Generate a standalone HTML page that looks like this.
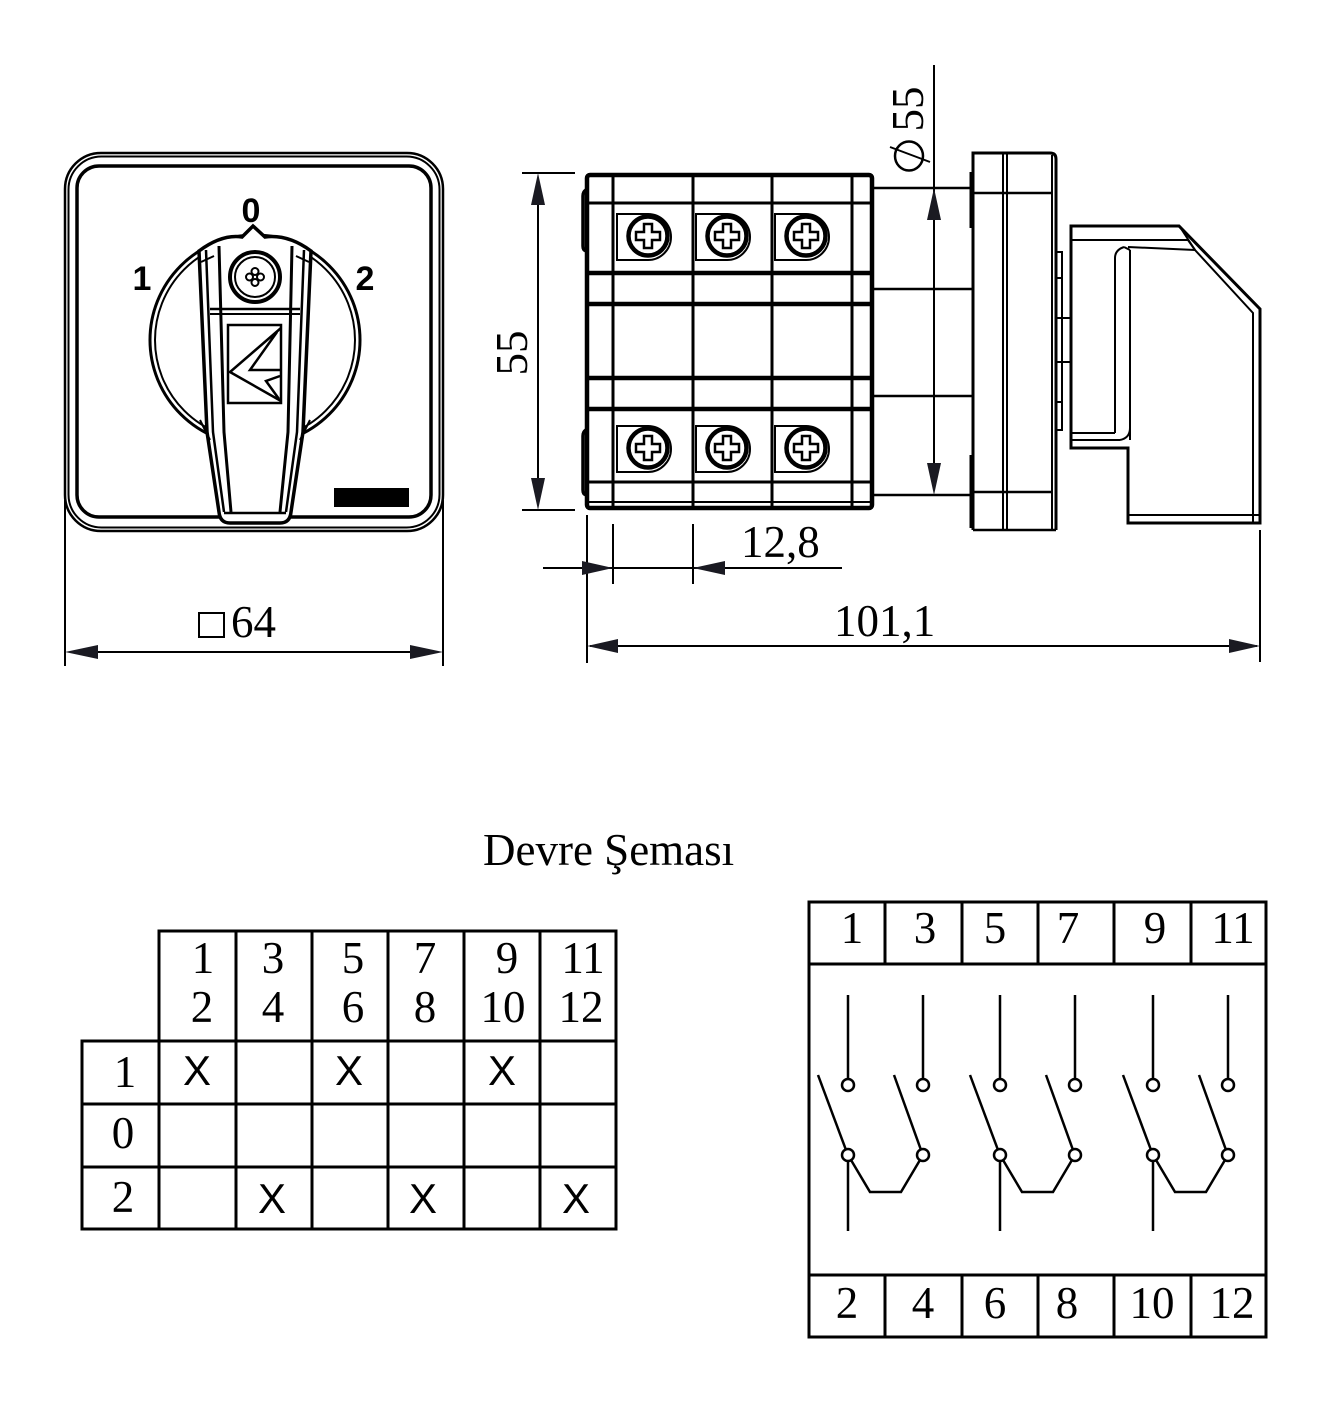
<!DOCTYPE html>
<html><head><meta charset="utf-8"><style>
html,body{margin:0;padding:0;background:#fff;}
svg{display:block;}
.s{fill:none;stroke:#000;}
.serif{font-family:"Liberation Serif",serif;fill:#000;}
.sans{font-family:"Liberation Sans",sans-serif;fill:#000;}
</style></head><body>
<svg width="1332" height="1403" viewBox="0 0 1332 1403" xmlns="http://www.w3.org/2000/svg">
<rect width="1332" height="1403" fill="#fff"/>

<!-- ===== FRONT VIEW ===== -->
<rect class="s" x="65" y="153" width="378" height="378" rx="36" stroke-width="2.5"/>
<rect class="s" x="68.5" y="156.5" width="371" height="371" rx="33" stroke-width="2"/>
<rect class="s" x="77" y="166" width="354" height="351" rx="22" stroke-width="3.5"/>

<!-- knob circle -->
<circle class="s" cx="255" cy="340" r="105" stroke-width="3"/>
<circle class="s" cx="255" cy="340" r="100" stroke-width="2"/>

<!-- handle -->
<path d="M199,251 Q222,234 242,237 L253,226 L265,237 Q288,234 311,251 L303,432 L291,512 Q290,523 280,523 L230,523 Q220,523 219,512 L207,432 Z" fill="#fff" stroke="#000" stroke-width="3.5"/>
<polyline class="s" points="206,250 213,432 224,512" stroke-width="2.5"/>
<polyline class="s" points="219,246 224,432 231,512" stroke-width="3"/>
<polyline class="s" points="304,250 297,432 286,512" stroke-width="2.5"/>
<polyline class="s" points="292,246 288,432 280,512" stroke-width="3"/>
<line class="s" x1="224" y1="513" x2="286" y2="513" stroke-width="2.5"/>
<line class="s" x1="210" y1="309" x2="300" y2="309" stroke-width="2.5"/>
<line class="s" x1="210" y1="314" x2="300" y2="314" stroke-width="2"/>
<!-- wings -->
<path class="s" d="M201,262 L214,256 M200,420 L210,440 M309,262 L296,256 M310,420 L300,440" stroke-width="2"/>

<!-- screw -->
<circle cx="255" cy="277" r="25" fill="#fff" stroke="#000" stroke-width="4"/>
<circle class="s" cx="255" cy="277" r="20" stroke-width="2"/>
<g class="s" stroke-width="2">
<circle cx="255" cy="271.5" r="3.5"/><circle cx="255" cy="282.5" r="3.5"/>
<circle cx="249.5" cy="277" r="3.5"/><circle cx="260.5" cy="277" r="3.5"/>
</g>

<!-- logo -->
<rect class="s" x="228" y="325" width="53" height="78" stroke-width="2.5"/>
<path class="s" d="M281,328 L230,372 L281,401 M277,332 L250,370 L281,370 M280,376 L266,381 L279,399" stroke-width="2.5"/>

<!-- black label -->
<rect x="334" y="488" width="75" height="19" fill="#000"/>

<text class="sans" x="251" y="222" font-size="34" font-weight="bold" text-anchor="middle">0</text>
<text class="sans" x="142" y="290" font-size="34" font-weight="bold" text-anchor="middle">1</text>
<text class="sans" x="365" y="290" font-size="34" font-weight="bold" text-anchor="middle">2</text>

<!-- □64 dimension -->
<line class="s" x1="65" y1="500" x2="65" y2="666" stroke-width="2"/>
<line class="s" x1="443" y1="500" x2="443" y2="666" stroke-width="2"/>
<line class="s" x1="70" y1="652" x2="438" y2="652" stroke-width="2"/>
<polygon points="65,652 98,645 98,659" fill="#1a1a22"/>
<polygon points="443,652 410,645 410,659" fill="#1a1a22"/>
<rect class="s" x="199" y="613" width="25" height="24" stroke-width="2"/>
<text class="serif" x="231" y="637" font-size="45">64</text>

<!-- ===== SIDE VIEW BODY ===== -->
<rect class="s" x="587" y="175" width="285" height="333" rx="3" stroke-width="4.5"/>
<g class="s" stroke-width="3">
<line x1="613" y1="175" x2="613" y2="508"/>
<line x1="693" y1="175" x2="693" y2="508"/>
<line x1="772" y1="175" x2="772" y2="508"/>
<line x1="852" y1="175" x2="852" y2="508"/>
<line x1="587" y1="203" x2="872" y2="203"/>
<line x1="587" y1="482" x2="872" y2="482"/>
<line x1="587" y1="502" x2="872" y2="502" stroke-width="2"/>
</g>
<g class="s" stroke-width="4.5">
<line x1="587" y1="273" x2="872" y2="273"/>
<line x1="587" y1="304" x2="872" y2="304"/>
<line x1="587" y1="378" x2="872" y2="378"/>
<line x1="587" y1="409" x2="872" y2="409"/>
</g>
<path class="s" d="M586,190 Q583,192 583,196 L583,246 Q583,250 586,251 M586,430 Q583,432 583,436 L583,490 Q583,494 586,495" stroke-width="3.5"/>

<!-- screws -->
<g id="scr">
<path d="M617,214 H648 A23,23 0 0 1 648,260 H617 Z" fill="#fff" stroke="#000" stroke-width="2"/>
<circle cx="648" cy="236" r="19.5" fill="#fff" stroke="#000" stroke-width="4.5"/>
<path d="M644,224 H652 V232 H660 V240 H652 V248 H644 V240 H636 V232 H644 Z" fill="#fff" stroke="#000" stroke-width="2.5"/>
</g>
<use href="#scr" x="79"/>
<use href="#scr" x="158"/>
<use href="#scr" y="212"/>
<use href="#scr" x="79" y="212"/>
<use href="#scr" x="158" y="212"/>

<!-- extension lines to flange -->
<g class="s" stroke-width="2.5">
<line x1="872" y1="188" x2="973" y2="188"/>
<line x1="872" y1="289" x2="973" y2="289"/>
<line x1="872" y1="396" x2="973" y2="396"/>
<line x1="872" y1="495" x2="973" y2="495"/>
</g>

<!-- flange -->
<path class="s" d="M973,530 L973,153 L1050,153 Q1056,153 1056,159 L1056,530" stroke-width="3"/>
<g class="s" stroke-width="2">
<line x1="1003" y1="153" x2="1003" y2="530"/>
<line x1="1007" y1="153" x2="1007" y2="530"/>
<line x1="1052" y1="155" x2="1052" y2="530"/>
<line x1="973" y1="530" x2="1056" y2="530" stroke-width="2.5"/>
<line x1="973" y1="193" x2="1052" y2="193" stroke-width="2.5"/>
<line x1="973" y1="492" x2="1052" y2="492" stroke-width="2.5"/>
</g>
<path class="s" d="M972,172 L972,228 M972,455 L972,528" stroke-width="5"/>
<!-- tabs -->
<g class="s" stroke-width="2">
<rect x="1056" y="252" width="6" height="26"/>
<rect x="1056" y="318" width="15" height="44"/>
<rect x="1056" y="402" width="6" height="28"/>
<line x1="1062" y1="252" x2="1062" y2="430"/>
</g>

<!-- handle side -->
<path class="s" d="M1071,226 L1179,226 L1260,309 L1260,523 L1128,523 L1128,448 L1071,448 Z" stroke-width="3"/>
<g class="s" stroke-width="2">
<path d="M1071,240 L1188,240 L1195,250 L1253,313 L1253,523"/>
<path d="M1128,515 L1260,515"/>
<path d="M1071,433 L1115,433 M1071,440 L1120,440"/>
<path d="M1180,227 L1195,250"/>
<path d="M1128,247 L1195,250 M1124,247 Q1115,250 1115,258 L1115,433 M1130,250 L1130,440 M1124,247 L1130,250"/>
<path d="M1120,440 Q1130,438 1130,428"/>
</g>

<!-- 55 dimension -->
<line class="s" x1="522" y1="173" x2="575" y2="173" stroke-width="2"/>
<line class="s" x1="522" y1="510" x2="575" y2="510" stroke-width="2"/>
<line class="s" x1="538" y1="178" x2="538" y2="505" stroke-width="2"/>
<polygon points="538,173 531,205 545,205" fill="#1a1a22"/>
<polygon points="538,510 531,478 545,478" fill="#1a1a22"/>
<text class="serif" font-size="45" text-anchor="middle" transform="translate(527,353) rotate(-90)">55</text>

<!-- Φ55 dimension -->
<line class="s" x1="934" y1="65" x2="934" y2="490" stroke-width="2"/>
<polygon points="934,188 927,220 941,220" fill="#1a1a22"/>
<polygon points="934,495 927,463 941,463" fill="#1a1a22"/>
<text class="serif" font-size="45" text-anchor="middle" transform="translate(923,109) rotate(-90)">55</text>
<ellipse class="s" cx="909" cy="156" rx="14" ry="14.5" stroke-width="2.5"/>
<line class="s" x1="890" y1="147" x2="930" y2="162" stroke-width="2"/>

<!-- 12,8 dimension -->
<line class="s" x1="587" y1="515" x2="587" y2="663" stroke-width="2"/>
<line class="s" x1="613" y1="524" x2="613" y2="584" stroke-width="2"/>
<line class="s" x1="693" y1="524" x2="693" y2="584" stroke-width="2"/>
<line class="s" x1="543" y1="568" x2="842" y2="568" stroke-width="2"/>
<polygon points="613,568 582,561 582,575" fill="#1a1a22"/>
<polygon points="693,568 725,561 725,575" fill="#1a1a22"/>
<text class="serif" x="741" y="557" font-size="45">12,8</text>

<!-- 101,1 dimension -->
<line class="s" x1="1260" y1="530" x2="1260" y2="662" stroke-width="2"/>
<line class="s" x1="590" y1="646" x2="1257" y2="646" stroke-width="2"/>
<polygon points="587,646 618,639 618,653" fill="#1a1a22"/>
<polygon points="1260,646 1229,639 1229,653" fill="#1a1a22"/>
<text class="serif" x="834" y="636" font-size="45">101,1</text>

<!-- ===== TITLE ===== -->
<text class="serif" x="483" y="865" font-size="45">Devre Şeması</text>

<!-- ===== TABLE ===== -->
<g class="s" stroke-width="3" stroke-linecap="square">
<line x1="159" y1="931" x2="616" y2="931"/>
<line x1="82" y1="1041" x2="616" y2="1041"/>
<line x1="82" y1="1104" x2="616" y2="1104"/>
<line x1="82" y1="1167" x2="616" y2="1167"/>
<line x1="82" y1="1229" x2="616" y2="1229"/>
<line x1="82" y1="1041" x2="82" y2="1229"/>
<line x1="159" y1="931" x2="159" y2="1229"/>
<line x1="236" y1="931" x2="236" y2="1229"/>
<line x1="312" y1="931" x2="312" y2="1229"/>
<line x1="388" y1="931" x2="388" y2="1229"/>
<line x1="464" y1="931" x2="464" y2="1229"/>
<line x1="540" y1="931" x2="540" y2="1229"/>
<line x1="616" y1="931" x2="616" y2="1229"/>
</g>
<g class="serif" font-size="45" text-anchor="middle">
<text x="203" y="973">1</text><text x="202" y="1022">2</text>
<text x="273" y="973">3</text><text x="273" y="1022">4</text>
<text x="353" y="973">5</text><text x="353" y="1022">6</text>
<text x="425" y="973">7</text><text x="425" y="1022">8</text>
<text x="507" y="973">9</text><text x="503" y="1022">10</text>
<text x="583" y="973">11</text><text x="581" y="1022">12</text>
<text x="125" y="1087">1</text>
<text x="123" y="1148">0</text>
<text x="123" y="1212">2</text>
</g>
<g class="sans" font-size="42" text-anchor="middle">
<text x="197" y="1085">X</text>
<text x="349" y="1085">X</text>
<text x="502" y="1085">X</text>
<text x="272" y="1213">X</text>
<text x="423" y="1213">X</text>
<text x="576" y="1213">X</text>
</g>

<!-- ===== CIRCUIT ===== -->
<g class="s" stroke-width="3" stroke-linecap="square">
<rect x="809" y="902" width="457" height="435"/>
<line x1="809" y1="964" x2="1266" y2="964"/>
<line x1="809" y1="1275" x2="1266" y2="1275"/>
<line x1="885" y1="902" x2="885" y2="964"/>
<line x1="962" y1="902" x2="962" y2="964"/>
<line x1="1038" y1="902" x2="1038" y2="964"/>
<line x1="1114" y1="902" x2="1114" y2="964"/>
<line x1="1191" y1="902" x2="1191" y2="964"/>
<line x1="885" y1="1275" x2="885" y2="1337"/>
<line x1="962" y1="1275" x2="962" y2="1337"/>
<line x1="1038" y1="1275" x2="1038" y2="1337"/>
<line x1="1114" y1="1275" x2="1114" y2="1337"/>
<line x1="1191" y1="1275" x2="1191" y2="1337"/>
</g>
<g class="serif" font-size="45" text-anchor="middle">
<text x="852" y="943">1</text>
<text x="925" y="943">3</text>
<text x="995" y="943">5</text>
<text x="1068" y="943">7</text>
<text x="1155" y="943">9</text>
<text x="1233" y="943">11</text>
<text x="847" y="1318">2</text>
<text x="923" y="1318">4</text>
<text x="995" y="1318">6</text>
<text x="1067" y="1318">8</text>
<text x="1152" y="1318">10</text>
<text x="1232" y="1318">12</text>
</g>
<g id="pole" class="s" stroke-width="2.5">
<line x1="848" y1="995" x2="848" y2="1079"/>
<line x1="923" y1="995" x2="923" y2="1079"/>
<circle cx="848" cy="1085" r="6"/>
<circle cx="923" cy="1085" r="6"/>
<line x1="818" y1="1075" x2="846" y2="1150"/>
<line x1="894" y1="1075" x2="921" y2="1150"/>
<circle cx="848" cy="1155" r="6"/>
<circle cx="923" cy="1155" r="6"/>
<line x1="848" y1="1161" x2="848" y2="1231"/>
<polyline points="851,1160 870,1192 901,1192 920,1160"/>
</g>
<use href="#pole" x="152"/>
<use href="#pole" x="305"/>
</svg>
</body></html>
